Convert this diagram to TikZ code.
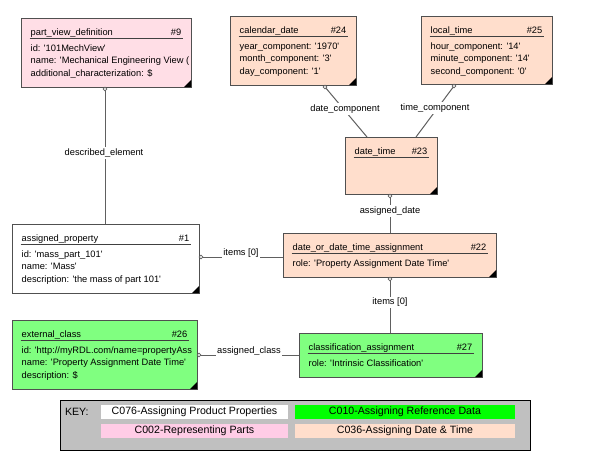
\documentclass[tikz,border=0pt]{standalone}
\usepackage{fontspec}
\setmainfont{Liberation Sans}
\newfontfamily\dfont{Liberation Sans}
\usetikzlibrary{calc}

\definecolor{pinkbox}{RGB}{255,222,230}
\definecolor{peach}{RGB}{255,222,204}
\definecolor{greenbox}{RGB}{128,255,128}
\definecolor{keypink}{RGB}{255,204,230}
\definecolor{keygreen}{RGB}{0,255,0}
\definecolor{keygrey}{RGB}{192,192,192}
\definecolor{bordergrey}{RGB}{80,80,80}
\definecolor{conngrey}{RGB}{96,96,96}

\tikzset{
  entity/.style={draw=bordergrey, line width=1pt, inner sep=0pt, outer sep=0pt},
  titletext/.style={inner sep=0pt, font=\dfont\fontsize{9.3}{11}\selectfont},
  bodytext/.style={inner sep=0pt, font=\dfont\fontsize{9.3}{11}\selectfont},
  uline/.style={draw=black!75, line width=0.9pt},
  conn/.style={draw=conngrey, line width=1pt},
  endcircle/.style={draw=conngrey, fill=white, line width=0.7pt},
  lbl/.style={fill=white, inner xsep=1pt, inner ysep=1.5pt, font=\dfont\fontsize{9.3}{11}\selectfont},
  keycell/.style={inner sep=0pt, outer sep=0pt, font=\dfont\fontsize{10.6}{12}\selectfont, anchor=north west},
}

\newcommand\ent[9]{%
  \node[entity, fill=#6, minimum width={(#4-#2)*1pt}, minimum height={(#5-#3)*1pt}, anchor=north west] (#1) at (#2,#3) {};
  \begin{scope}
    \clip (#1.north west) rectangle (#1.south east);
    \node[titletext, anchor=base west] (#1-t) at ($(#1.north west)+(9.5,17.3)$) {#7};
    \node[titletext, anchor=base east] (#1-n) at ($(#1.north east)+(-9.5,17.3)$) {#8};
    \draw[uline] ($(#1.north west)+(8.5,20.5)$) -- ($(#1.north east)+(-8.5,20.5)$);
    \foreach \lineitem [count=\idx from 0] in {#9} {
      \node[bodytext, anchor=base west] at ($(#1.north west)+(9.5,{33.3+12.5*\idx})$) {\lineitem};
    }
  \end{scope}
  \fill[black] (#1.south east) -- ++(-7,0) -- ++(7,-7) -- cycle;
}

\begin{document}
\begin{tikzpicture}[x=1pt,y=-1pt]
\useasboundingbox (0,0) rectangle (590,451);
\fill[white] (0,0) rectangle (590,451);

% entities
\ent{pvd}{21}{18}{191}{87}{pinkbox}{part\_view\_definition}{\#9}{{id: '101MechView'},{name: 'Mechanical Engineering View (},{additional\_characterization: \$}}
\ent{cal}{230}{16}{356}{85}{peach}{calendar\_date}{\#24}{{year\_component: '1970'},{month\_component: '3'},{day\_component: '1'}}
\ent{lt}{421}{16}{552}{84}{peach}{local\_time}{\#25}{{hour\_component: '14'},{minute\_component: '14'},{second\_component: '0'}}
\ent{dt}{345}{137}{437}{194}{peach}{date\_time}{\#23}{}
\ent{ap}{12}{224}{199}{293}{white}{assigned\_property}{\#1}{{id: 'mass\_part\_101'},{name: 'Mass'},{description: 'the mass of part 101'}}
\ent{dda}{283}{233}{496}{277}{peach}{date\_or\_date\_time\_assignment}{\#22}{{role: 'Property Assignment Date Time'}}
\ent{ec}{12}{320}{197}{389}{greenbox}{external\_class}{\#26}{{id: 'http://myRDL.com/name=propertyAss},{name: 'Property Assignment Date Time'},{description: \$}}
\ent{ca}{299}{333}{482}{377}{greenbox}{classification\_assignment}{\#27}{{role: 'Intrinsic Classification'}}

% connector end points
\coordinate (o1) at (105,89);
\coordinate (o2) at (325,87);
\coordinate (o3) at (454,86);
\coordinate (o4) at (390,196);
\coordinate (o5) at (201,257);
\coordinate (o6) at (390,279);
\coordinate (o7) at (199,355);
\coordinate (t2) at (367,137);
\coordinate (t3) at (416,137);

% connectors
\draw[conn] (o1) -- (o1 |- ap.north);
\draw[conn] (o2) -- (t2);
\draw[conn] (o3) -- (t3);
\draw[conn] (o4) -- (o4 |- dda.north);
\draw[conn] (o5) -- (o5 -| dda.west);
\draw[conn] (o6) -- (o6 |- ca.north);
\draw[conn] (o7) -- (o7 -| ca.west);

\foreach \c in {o1,o2,o3,o4,o5,o6,o7} { \draw[endcircle] (\c) circle (1.9); }

% labels
\node[lbl] (l1) at (104,153) {described\_element};
\node[lbl] (l2) at (345,109) {date\_component};
\node[lbl] (l3) at (435,108) {time\_component};
\node[lbl] (l4) at (390,211) {assigned\_date};
\node[lbl, anchor=base] (l5) at (241,255.5) {items [0]};
\node[lbl] (l6) at (390,302.5) {items [0]};
\node[lbl, anchor=base] (l7) at (249,353.5) {assigned\_class};

% key
\node[draw=black, fill=keygrey, line width=0.8pt, inner sep=0pt, minimum width=470pt, minimum height=50pt, anchor=north west] (key) at (60,400) {};
\node[keycell, anchor=west] (keylbl) at (65,412) {KEY:};
\node[keycell, fill=white, minimum width=187pt, minimum height=14pt] (k1) at (101,405) {C076-Assigning Product Properties};
\node[keycell, fill=keygreen, minimum width=220pt, minimum height=14pt] (k2) at (295,405) {C010-Assigning Reference Data};
\node[keycell, fill=keypink, minimum width=187pt, minimum height=14pt] (k3) at (101,424) {C002-Representing Parts};
\node[keycell, fill=peach, minimum width=220pt, minimum height=14pt] (k4) at (295,424) {C036-Assigning Date \& Time};
\end{tikzpicture}
\end{document}
